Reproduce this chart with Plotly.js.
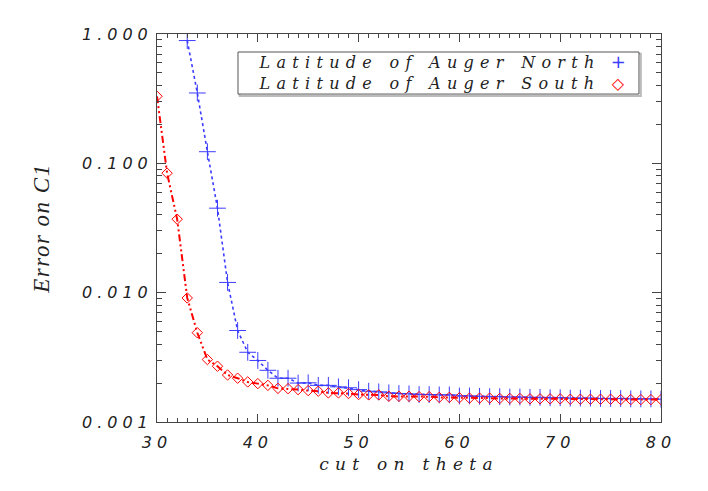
<!DOCTYPE html>
<html>
<head>
<meta charset="utf-8">
<script src="https://cdn.plot.ly/plotly-3.0.1.min.js"></script>
<style>
  body { margin: 0; background: #fff; }
  #plot { width: 708px; height: 491px; }
  #plot svg text { letter-spacing: 5px; }
  #plot svg .annotation-text, #plot svg .xtitle { letter-spacing: 6.3px; }
  #plot svg .ytitle { letter-spacing: 1.5px; }
</style>
</head>
<body>
<div id="plot"></div>
<script>
// cut on theta (deg)
var northTheta = [33, 34, 35, 36, 37, 38, 39, 40, 41, 42, 43, 44, 45, 46, 47, 48, 49, 50,
  51, 52, 53, 54, 55, 56, 57, 58, 59, 60, 61, 62, 63, 64, 65, 66, 67, 68, 69, 70,
  71, 72, 73, 74, 75, 76, 77, 78, 79, 80];
var northErr = [0.89, 0.35, 0.123, 0.045, 0.0120, 0.0051, 0.00346, 0.00299, 0.00251, 0.00218,
  0.00218, 0.00200, 0.00201, 0.00192, 0.00192, 0.00187, 0.00184, 0.00178, 0.00173, 0.00171,
  0.00168, 0.00166, 0.00165, 0.00163, 0.00163, 0.00162, 0.00162, 0.00159, 0.00159, 0.00158,
  0.00157, 0.00157, 0.00156, 0.00156, 0.00155, 0.00155, 0.00154, 0.00154, 0.00153, 0.00153,
  0.00153, 0.00152, 0.00152, 0.00152, 0.00151, 0.00151, 0.00151, 0.00150];

var southTheta = [30, 31, 32, 33, 34, 35, 36, 37, 38, 39, 40, 41, 42, 43, 44, 45, 46, 47, 48, 49, 50,
  51, 52, 53, 54, 55, 56, 57, 58, 59, 60, 61, 62, 63, 64, 65, 66, 67, 68, 69, 70,
  71, 72, 73, 74, 75, 76, 77, 78, 79, 80];
var southErr = [0.33, 0.084, 0.037, 0.0091, 0.0049, 0.00304, 0.0027, 0.00231, 0.00218, 0.00204,
  0.00198, 0.00192, 0.00182, 0.00181, 0.00178, 0.00175, 0.00173, 0.00168, 0.00168, 0.00166,
  0.00163, 0.00162, 0.00162, 0.00158, 0.00158, 0.00158, 0.00157, 0.00157, 0.00155, 0.00155,
  0.00154, 0.00153, 0.00153, 0.00153, 0.00152, 0.00152, 0.00152, 0.00151, 0.00151, 0.00151,
  0.00151, 0.00150, 0.00150, 0.00150, 0.00150, 0.00150, 0.00149, 0.00149, 0.00149, 0.00149,
  0.00149];

var yTickVals = [0.001, 0.01, 0.1, 1];
var yTickText = ['0.001', '0.010', '0.100', '1.000'];
var seriesNames = ['Latitude of Auger North', 'Latitude of Auger South'];

var blue = 'rgb(60,60,255)';
var red = 'rgb(255,0,0)';
var axisColor = '#444';
var tickFont = { family: 'DejaVu Sans', size: 16, color: '#222', style: 'italic' };
var labelFont = { family: 'DejaVu Serif', size: 17, color: '#222', style: 'italic' };
var legendFont = { family: 'DejaVu Serif', size: 16, color: '#222', style: 'italic' };

var traces = [
  {
    x: northTheta, y: northErr, type: 'scatter', mode: 'lines+markers',
    name: seriesNames[0],
    line: { color: blue, width: 1.6, dash: 'dot' },
    marker: { symbol: 'cross-thin', size: 12, line: { color: blue, width: 1 } }
  },
  {
    x: southTheta, y: southErr, type: 'scatter', mode: 'lines+markers',
    name: seriesNames[1],
    line: { color: red, width: 2, dash: '7px,3px,2px,3px,2px,3px' },
    marker: { symbol: 'diamond-open', size: 8, color: red, line: { color: red, width: 1 } }
  }
];

// legend box drawn by hand: text first, symbol after it (IDL style)
var splitY = 0.900;
var annotations = [
  { xref: 'paper', yref: 'paper', x: 0.540, y: splitY, xanchor: 'center', yanchor: 'bottom',
    text: seriesNames[0], showarrow: false, font: legendFont, borderpad: 0 },
  { xref: 'paper', yref: 'paper', x: 0.540, y: splitY, xanchor: 'center', yanchor: 'top',
    text: seriesNames[1], showarrow: false, font: legendFont, borderpad: 0 },
  { xref: 'paper', yref: 'paper', x: 0.922, y: splitY, xanchor: 'center', yanchor: 'bottom',
    text: '+', showarrow: false, font: { family: 'DejaVu Sans', size: 18, color: blue }, borderpad: 0 },
  { xref: 'paper', yref: 'paper', x: 0.922, y: splitY, xanchor: 'center', yanchor: 'top',
    text: '\u25C7', showarrow: false, font: { family: 'DejaVu Sans', size: 16, color: red }, borderpad: 0 }
];

var shapes = [
  { type: 'rect', xref: 'paper', yref: 'paper', x0: 0.164, x1: 0.960, y0: 0.840, y1: 0.949,
    line: { color: '#bbb', width: 2 }, fillcolor: 'rgba(0,0,0,0)' },
  { type: 'rect', xref: 'paper', yref: 'paper', x0: 0.1607, x1: 0.9563, y0: 0.8452, y1: 0.9536,
    line: { color: '#555', width: 1 }, fillcolor: 'white' }
];

var layout = {
  width: 708,
  height: 491,
  margin: { l: 157, r: 47, t: 34, b: 69 },
  paper_bgcolor: 'white',
  plot_bgcolor: 'white',
  showlegend: false,
  xaxis: {
    range: [30, 80],
    dtick: 10,
    ticks: 'inside',
    ticklen: 8,
    tickcolor: axisColor,
    showline: true,
    linecolor: axisColor,
    linewidth: 1,
    mirror: 'ticks',
    showgrid: false,
    zeroline: false,
    tickfont: tickFont,
    ticklabelstandoff: 6,
    minor: { ticks: 'inside', ticklen: 4, dtick: 1, tickcolor: axisColor, showgrid: false },
    title: { text: 'cut on theta', font: labelFont, standoff: 6 }
  },
  yaxis: {
    type: 'log',
    range: [-3, 0],
    tickvals: yTickVals,
    ticktext: yTickText,
    ticks: 'inside',
    ticklen: 9,
    tickcolor: axisColor,
    showline: true,
    linecolor: axisColor,
    linewidth: 1,
    mirror: 'ticks',
    showgrid: false,
    zeroline: false,
    tickfont: tickFont,
    ticklabelstandoff: 0,
    minor: { ticks: 'inside', ticklen: 5, dtick: 'D1', tickcolor: axisColor, showgrid: false },
    title: { text: 'Error on C1', font: { family: 'Liberation Serif', size: 23, color: '#222', style: 'italic' }, standoff: 50 }
  },
  shapes: shapes,
  annotations: annotations
};

Plotly.newPlot('plot', traces, layout, { displayModeBar: false, staticPlot: true });
</script>
</body>
</html>
